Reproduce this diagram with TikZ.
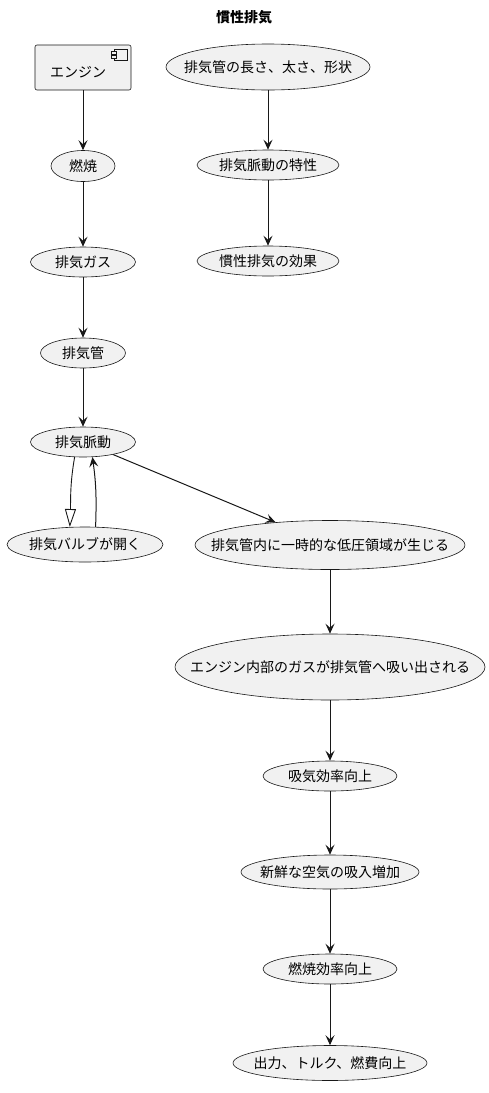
\documentclass[tikz,border=0pt]{standalone}
\usepackage{fontspec}
\setmainfont{Noto Sans CJK JP}
\usetikzlibrary{shapes.geometric,arrows.meta}
\definecolor{nodefill}{HTML}{F1F1F1}
\definecolor{nodeline}{HTML}{181818}
\newcommand{\fsz}{\fontsize{14}{16}\selectfont}
\begin{document}
\begin{tikzpicture}[x=1pt,y=-1pt,
  uc/.style={ellipse, draw=nodeline, fill=nodefill, line width=0.6pt, inner sep=0pt, minimum width=#1},
  every label/.style={font=\fsz, text=black, inner sep=0pt},
  conn/.style={draw=nodeline, line width=1pt, -{Stealth[length=10pt,width=9pt,inset=4pt]}},
  ext/.style={draw=nodeline, line width=0.9pt, -{Triangle[open,length=18pt,width=11pt]}}]
\useasboundingbox (0,0) rectangle (489,1093);
% title
\node[font=\fsz\bfseries] (title) at (244,17) {慣性排気};
% component
\node[draw=nodeline, fill=nodefill, line width=0.6pt, rounded corners=2pt, minimum width=96pt, minimum height=45pt, inner sep=0pt, font=\fsz] (eng) at (83,67.5) {};
\node[font=\fsz] (englabel) at (78,72) {エンジン};
\draw[nodeline, line width=0.5pt, fill=nodefill] (114,49) rectangle (127,60);
\draw[nodeline, line width=0.5pt, fill=nodefill] (111,51.5) rectangle (116,54);
\draw[nodeline, line width=0.5pt, fill=nodefill] (111,55.5) rectangle (116,58);
% nodes
\node[uc=204pt, minimum height=46pt, label=center:{排気管の長さ、太さ、形状}] (shape) at (268,67) {};
\node[uc=64pt, minimum height=31pt, label=center:{燃焼}] (comb) at (83,166) {};
\node[uc=142pt, minimum height=30pt, label=center:{排気脈動の特性}] (spec) at (268,165) {};
\node[uc=105pt, minimum height=30pt, label=center:{排気ガス}] (gas) at (83,262) {};
\node[uc=142pt, minimum height=30pt, label=center:{慣性排気の効果}] (eff) at (268,261) {};
\node[uc=85pt, minimum height=30pt, label=center:{排気管}] (pipe) at (83,353) {};
\node[uc=105pt, minimum height=30pt, label=center:{排気脈動}] (pulse) at (83,442) {};
\node[uc=156pt, minimum height=35pt, label=center:{排気バルブが開く}] (valve) at (85,544.5) {};
\node[uc=270pt, minimum height=49pt, label=center:{排気管内に一時的な低圧領域が生じる}] (low) at (330,545) {};
\node[uc=310pt, minimum height=66pt, label=center:{エンジン内部のガスが排気管へ吸い出される}] (suck) at (330,667) {};
\node[uc=134pt, minimum height=30pt, label=center:{吸気効率向上}] (intake) at (330,776) {};
\node[uc=178pt, minimum height=34pt, label=center:{新鮮な空気の吸入増加}] (fresh) at (330,872) {};
\node[uc=134pt, minimum height=30pt, label=center:{燃焼効率向上}] (combeff) at (330,969) {};
\node[uc=194pt, minimum height=35pt, label=center:{出力、トルク、燃費向上}] (out) at (330,1063) {};
% connectors
\draw[conn] (eng) -- (comb);
\draw[conn] (comb) -- (gas);
\draw[conn] (gas) -- (pipe);
\draw[conn] (pipe) -- (pulse);
\draw[conn] (shape) -- (spec);
\draw[conn] (spec) -- (eff);
\draw[conn] (pulse) -- (low);
\draw[ext] (pulse.241) to[out=-100,in=88] (valve.131);
\draw[conn] (valve.59) to[out=88,in=-82] (pulse.302);
\draw[conn] (low) -- (suck);
\draw[conn] (suck) -- (intake);
\draw[conn] (intake) -- (fresh);
\draw[conn] (fresh) -- (combeff);
\draw[conn] (combeff) -- (out);
\end{tikzpicture}
\end{document}
